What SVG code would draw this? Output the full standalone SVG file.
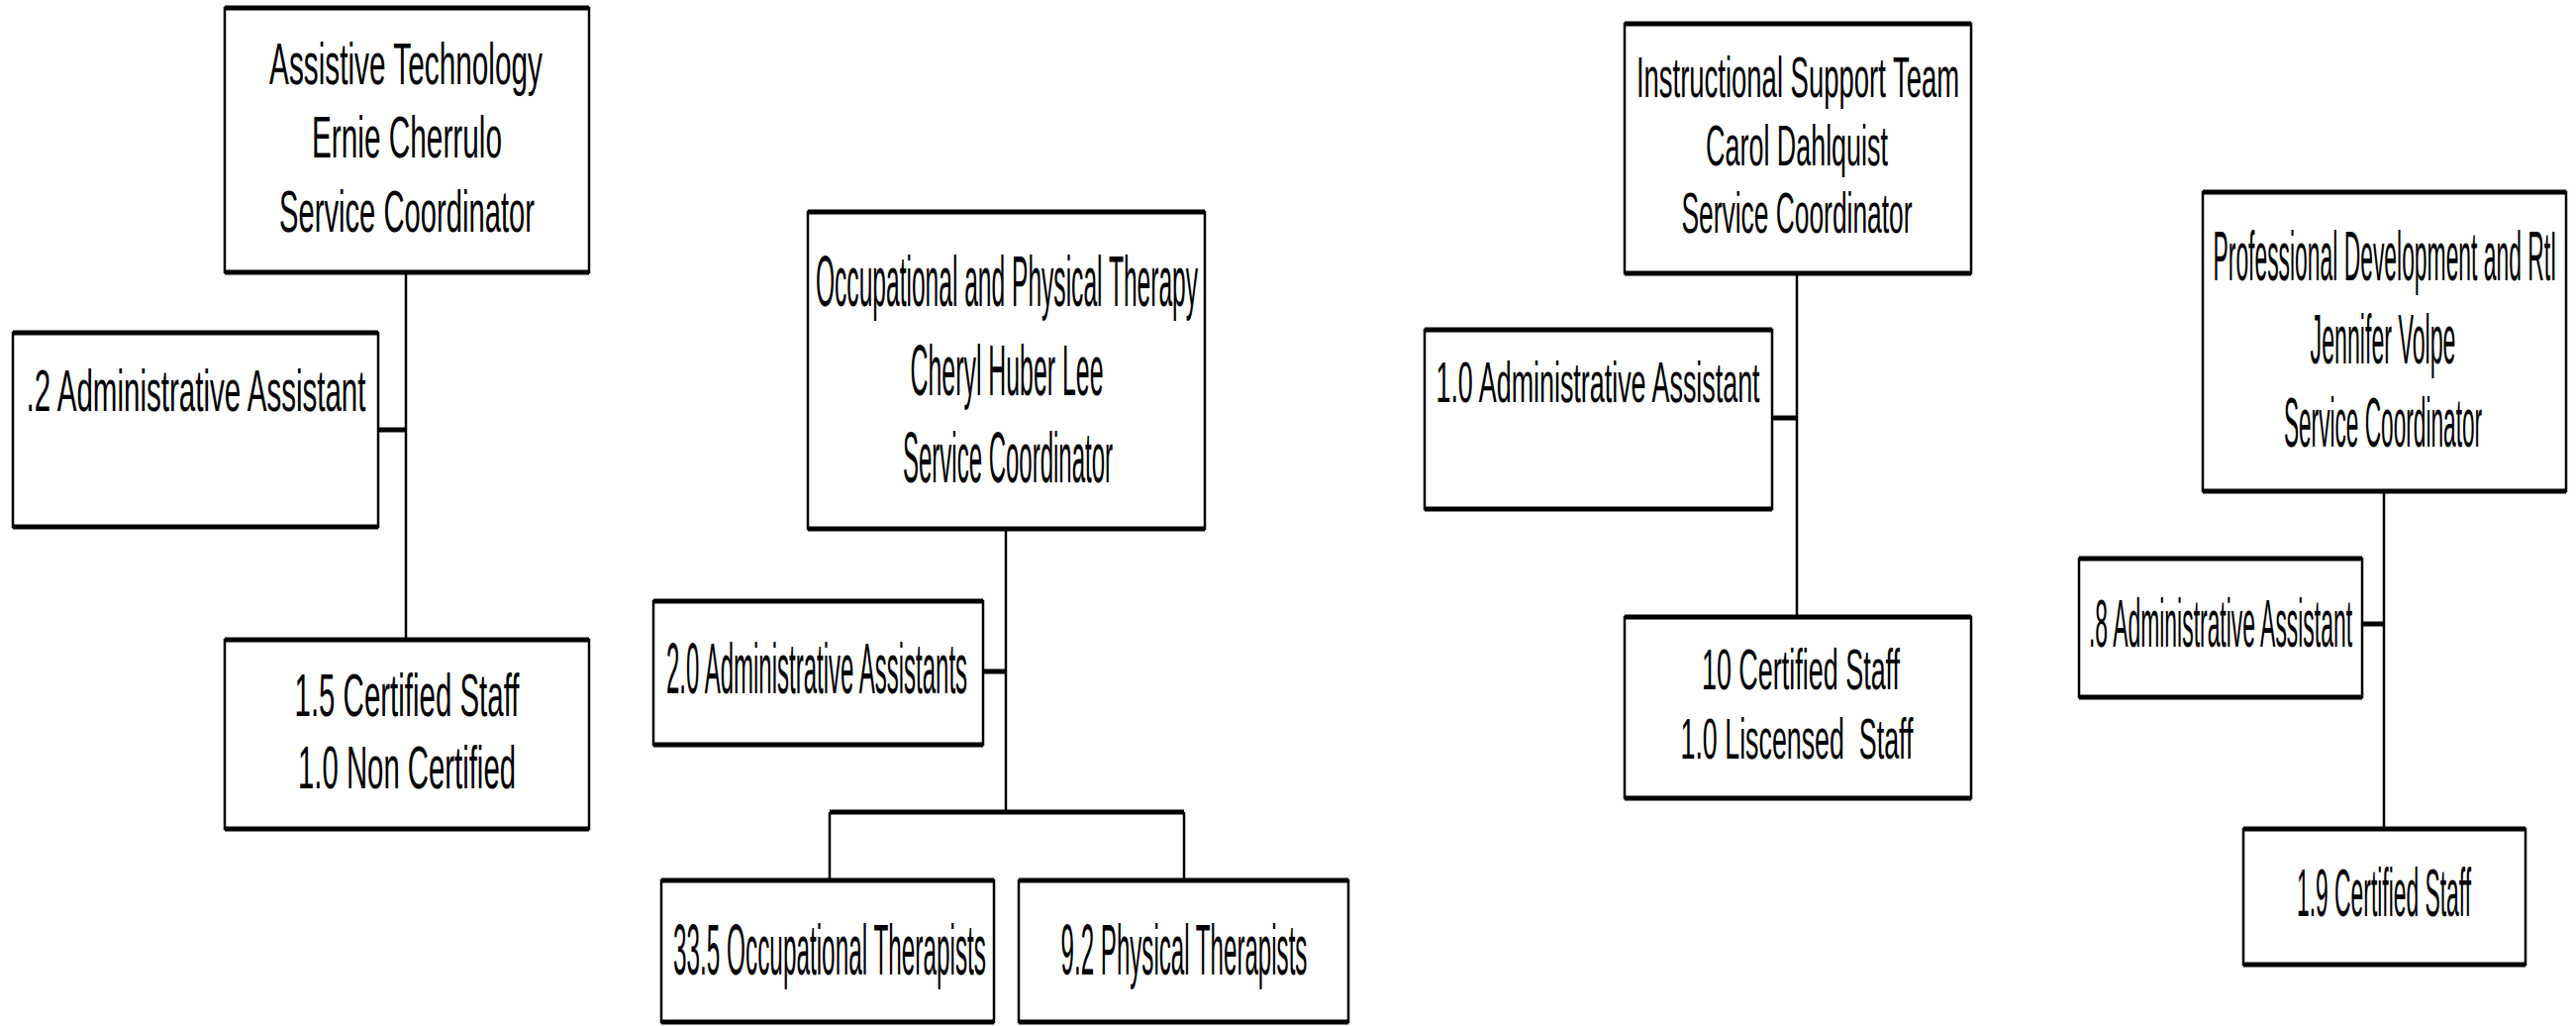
<svg xmlns="http://www.w3.org/2000/svg" width="2602" height="1036" viewBox="0 0 2602 1036">
<style>
.bx{fill:#fff;stroke:#000;stroke-width:2.5}
.tb{stroke:#000;stroke-width:5;fill:none}
.ln{stroke:#000;stroke-width:2.5;fill:none}
.lt{stroke:#000;stroke-width:5;fill:none}
text{font-family:"Liberation Sans",Arial,sans-serif;fill:#000;text-anchor:middle}
</style>
<rect width="2602" height="1036" fill="#fff"/>
<g id="connectors">
<path class="ln" d="M410 275V646"/>
<path class="lt" d="M382 434H410"/>
<path class="ln" d="M1016 534V820"/>
<path class="lt" d="M993 678H1016"/>
<path class="lt" d="M838 820H1196"/>
<path class="ln" d="M838 820V889M1196 820V889"/>
<path class="ln" d="M1815 276V623"/>
<path class="lt" d="M1790 422H1815"/>
<path class="ln" d="M2408 496V837"/>
<path class="lt" d="M2386 630H2408"/>
</g>
<g id="at-head">
<rect class="bx" x="227" y="8" width="368" height="267"/>
<path class="tb" d="M227 8H595M227 275H595"/>
<text font-size="60" transform="translate(410 85) scale(0.5 1)" textLength="552" lengthAdjust="spacingAndGlyphs">Assistive Technology</text>
<text font-size="60" transform="translate(411 159) scale(0.5 1)" textLength="384" lengthAdjust="spacingAndGlyphs">Ernie Cherrulo</text>
<text font-size="60" transform="translate(411 234) scale(0.5 1)" textLength="516" lengthAdjust="spacingAndGlyphs">Service Coordinator</text>
</g>
<g id="at-admin">
<rect class="bx" x="13" y="336" width="369" height="196"/>
<path class="tb" d="M13 336H382M13 532H382"/>
<text font-size="60" transform="translate(198 415) scale(0.5 1)" textLength="686" lengthAdjust="spacingAndGlyphs">.2 Administrative Assistant</text>
</g>
<g id="at-staff">
<rect class="bx" x="227" y="646" width="368" height="191"/>
<path class="tb" d="M227 646H595M227 837H595"/>
<text font-size="62" transform="translate(411 723) scale(0.5 1)" textLength="454" lengthAdjust="spacingAndGlyphs">1.5 Certified Staff</text>
<text font-size="62" transform="translate(411 796) scale(0.5 1)" textLength="440" lengthAdjust="spacingAndGlyphs">1.0 Non Certified</text>
</g>
<g id="ot-head">
<rect class="bx" x="816" y="214" width="401" height="320"/>
<path class="tb" d="M816 214H1217M816 534H1217"/>
<text font-size="72" transform="translate(1017 309) scale(0.35 1)" textLength="1103" lengthAdjust="spacingAndGlyphs">Occupational and Physical Therapy</text>
<text font-size="72" transform="translate(1017 399) scale(0.35 1)" textLength="557" lengthAdjust="spacingAndGlyphs">Cheryl Huber Lee</text>
<text font-size="72" transform="translate(1018 487) scale(0.35 1)" textLength="606" lengthAdjust="spacingAndGlyphs">Service Coordinator</text>
</g>
<g id="ot-admin">
<rect class="bx" x="660" y="607" width="333" height="145"/>
<path class="tb" d="M660 607H993M660 752H993"/>
<text font-size="72" transform="translate(825 700) scale(0.35 1)" textLength="869" lengthAdjust="spacingAndGlyphs">2.0 Administrative Assistants</text>
</g>
<g id="ot-occ">
<rect class="bx" x="668" y="889" width="336" height="143"/>
<path class="tb" d="M668 889H1004M668 1032H1004"/>
<text font-size="72" transform="translate(838 984) scale(0.35 1)" textLength="903" lengthAdjust="spacingAndGlyphs">33.5 Occupational Therapists</text>
</g>
<g id="ot-phys">
<rect class="bx" x="1029" y="889" width="333" height="143"/>
<path class="tb" d="M1029 889H1362M1029 1032H1362"/>
<text font-size="72" transform="translate(1196 984) scale(0.35 1)" textLength="711" lengthAdjust="spacingAndGlyphs">9.2 Physical Therapists</text>
</g>
<g id="ist-head">
<rect class="bx" x="1641" y="24" width="350" height="252"/>
<path class="tb" d="M1641 24H1991M1641 276H1991"/>
<text font-size="58" transform="translate(1816 98) scale(0.47 1)" textLength="694" lengthAdjust="spacingAndGlyphs">Instructional Support Team</text>
<text font-size="58" transform="translate(1815 167) scale(0.47 1)" textLength="391" lengthAdjust="spacingAndGlyphs">Carol Dahlquist</text>
<text font-size="58" transform="translate(1815 235) scale(0.47 1)" textLength="496" lengthAdjust="spacingAndGlyphs">Service Coordinator</text>
</g>
<g id="ist-admin">
<rect class="bx" x="1439" y="333" width="351" height="181"/>
<path class="tb" d="M1439 333H1790M1439 514H1790"/>
<text font-size="58" transform="translate(1614 406) scale(0.47 1)" textLength="696" lengthAdjust="spacingAndGlyphs">1.0 Administrative Assistant</text>
</g>
<g id="ist-staff">
<rect class="bx" x="1641" y="623" width="350" height="183"/>
<path class="tb" d="M1641 623H1991M1641 806H1991"/>
<text font-size="58" transform="translate(1819 696) scale(0.47 1)" textLength="426" lengthAdjust="spacingAndGlyphs">10 Certified Staff</text>
<text font-size="58" transform="translate(1815 766) scale(0.47 1)" textLength="500" lengthAdjust="spacingAndGlyphs" xml:space="preserve">1.0 Liscensed  Staff</text>
</g>
<g id="pd-head">
<rect class="bx" x="2225" y="194" width="367" height="302"/>
<path class="tb" d="M2225 194H2592M2225 496H2592"/>
<text font-size="70" transform="translate(2409 283) scale(0.327 1)" textLength="1061" lengthAdjust="spacingAndGlyphs">Professional Development and RtI</text>
<text font-size="70" transform="translate(2407 367) scale(0.36 1)" textLength="408" lengthAdjust="spacingAndGlyphs">Jennifer Volpe</text>
<text font-size="70" transform="translate(2407 451) scale(0.36 1)" textLength="556" lengthAdjust="spacingAndGlyphs">Service Coordinator</text>
</g>
<g id="pd-admin">
<rect class="bx" x="2100" y="564" width="286" height="140"/>
<path class="tb" d="M2100 564H2386M2100 704H2386"/>
<text font-size="68" transform="translate(2243 653) scale(0.36 1)" textLength="739" lengthAdjust="spacingAndGlyphs">.8 Administrative Assistant</text>
</g>
<g id="pd-staff">
<rect class="bx" x="2266" y="837" width="285" height="137"/>
<path class="tb" d="M2266 837H2551M2266 974H2551"/>
<text font-size="68" transform="translate(2408 925) scale(0.36 1)" textLength="489" lengthAdjust="spacingAndGlyphs">1.9 Certified Staff</text>
</g>
</svg>
